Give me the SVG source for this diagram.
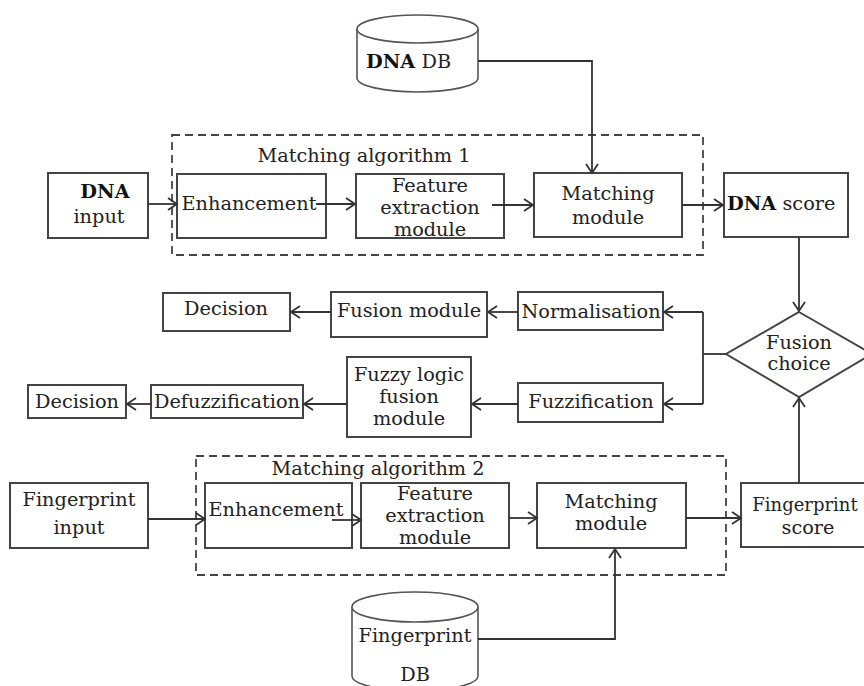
<svg xmlns="http://www.w3.org/2000/svg" width="864" height="686" viewBox="0 0 864 686">
<defs>
<marker id="arr" markerUnits="userSpaceOnUse" markerWidth="12" markerHeight="14" refX="10" refY="7" orient="auto">
<path d="M1,1 L10,7 L1,13" fill="none" stroke="#333" stroke-width="1.8"/>
</marker>
<style>
.box{fill:#fff;stroke:#444;stroke-width:2}
.dash{fill:none;stroke:#444;stroke-width:1.8;stroke-dasharray:8 5}
.cyl{fill:#fff;stroke:#555;stroke-width:1.6}
.ln{fill:none;stroke:#333;stroke-width:1.8}
text{font-family:"DejaVu Serif","Liberation Serif",serif;font-size:19.3px;fill:#222}
.m{text-anchor:middle}
.b{font-weight:bold;fill:#111}
</style>
</defs>
<rect width="864" height="686" fill="#fff"/>

<g id="groups">
<rect class="dash" x="172" y="135" width="531" height="120"/>
<text x="364" y="162" class="m">Matching algorithm 1</text>
<rect class="dash" x="196" y="456" width="530" height="119"/>
<text x="378" y="475" class="m">Matching algorithm 2</text>
</g>

<g id="dna-db">
<path class="cyl" d="M357,29 L357,78 A60.5,14 0 0 0 478,78 L478,29"/>
<ellipse class="cyl" cx="417.5" cy="29" rx="60.5" ry="14"/>
<text x="366" y="68"><tspan class="b">DNA</tspan> DB</text>
</g>

<g id="dna-input">
<rect class="box" x="48" y="173" width="100" height="65"/>
<text x="105" y="198" class="m b">DNA</text>
<text x="99" y="223" class="m">input</text>
</g>

<g id="enh1">
<rect class="box" x="177" y="174" width="149" height="64"/>
<text x="249" y="210" class="m">Enhancement</text>
</g>

<g id="feat1">
<rect class="box" x="356" y="174" width="148" height="64"/>
<text x="430" y="192" class="m">Feature</text>
<text x="430" y="214" class="m">extraction</text>
<text x="430" y="236" class="m">module</text>
</g>

<g id="match1">
<rect class="box" x="534" y="173" width="148" height="64"/>
<text x="608" y="200" class="m">Matching</text>
<text x="608" y="224" class="m">module</text>
</g>

<g id="dna-score">
<rect class="box" x="724" y="173" width="124" height="64"/>
<text x="727" y="210"><tspan class="b">DNA</tspan> score</text>
</g>

<g id="fusion-choice">
<path class="box" d="M799,312 L872,354 L799,397 L726,354 Z"/>
<text x="799" y="349" class="m">Fusion</text>
<text x="799" y="370" class="m">choice</text>
</g>

<g id="normalisation">
<rect class="box" x="518" y="292" width="145" height="38"/>
<text x="591" y="318" class="m">Normalisation</text>
</g>

<g id="fusion-module">
<rect class="box" x="331" y="292" width="156" height="45"/>
<text x="409" y="317" class="m">Fusion module</text>
</g>

<g id="decision1">
<rect class="box" x="163" y="293" width="127" height="38"/>
<text x="226" y="315" class="m">Decision</text>
</g>

<g id="fuzzification">
<rect class="box" x="518" y="383" width="145" height="39"/>
<text x="591" y="408" class="m">Fuzzification</text>
</g>

<g id="fuzzy-logic">
<rect class="box" x="347" y="357" width="124" height="80"/>
<text x="409" y="381" class="m">Fuzzy logic</text>
<text x="409" y="403" class="m">fusion</text>
<text x="409" y="425" class="m">module</text>
</g>

<g id="defuzzification">
<rect class="box" x="151" y="385" width="152" height="33"/>
<text x="227" y="408" class="m">Defuzzification</text>
</g>

<g id="decision2">
<rect class="box" x="28" y="385" width="98" height="33"/>
<text x="77" y="408" class="m">Decision</text>
</g>

<g id="fp-input">
<rect class="box" x="10" y="483" width="138" height="65"/>
<text x="79" y="506" class="m">Fingerprint</text>
<text x="79" y="534" class="m">input</text>
</g>

<g id="enh2">
<rect class="box" x="205" y="483" width="147" height="65"/>
<text x="276" y="516" class="m">Enhancement</text>
</g>

<g id="feat2">
<rect class="box" x="361" y="483" width="148" height="65"/>
<text x="435" y="500" class="m">Feature</text>
<text x="435" y="522" class="m">extraction</text>
<text x="435" y="544" class="m">module</text>
</g>

<g id="match2">
<rect class="box" x="537" y="483" width="149" height="65"/>
<text x="611" y="508" class="m">Matching</text>
<text x="611" y="530" class="m">module</text>
</g>

<g id="fp-score">
<rect class="box" x="741" y="483" width="140" height="64"/>
<text x="805" y="511" class="m" style="font-size:18px">Fingerprint</text>
<text x="808" y="534" class="m">score</text>
</g>

<g id="fp-db">
<path class="cyl" d="M352,607 L352,676 A63,15 0 0 0 478,676 L478,607"/>
<ellipse class="cyl" cx="415" cy="607" rx="63" ry="15"/>
<text x="415" y="642" class="m">Fingerprint</text>
<text x="415" y="681" class="m">DB</text>
</g>

<g id="connectors">
<path class="ln" d="M478,61 H592 V173" marker-end="url(#arr)"/>
<path class="ln" d="M148,204 H177" marker-end="url(#arr)"/>
<path class="ln" d="M316,204 H355" marker-end="url(#arr)"/>
<path class="ln" d="M492,205 H533" marker-end="url(#arr)"/>
<path class="ln" d="M682,205 H723" marker-end="url(#arr)"/>
<path class="ln" d="M799,237 V311" marker-end="url(#arr)"/>
<path class="ln" d="M726,354 H703"/>
<path class="ln" d="M703,312 V404"/>
<path class="ln" d="M703,312 H664" marker-end="url(#arr)"/>
<path class="ln" d="M703,404 H664" marker-end="url(#arr)"/>
<path class="ln" d="M518,312 H488" marker-end="url(#arr)"/>
<path class="ln" d="M331,312 H291" marker-end="url(#arr)"/>
<path class="ln" d="M518,404 H472" marker-end="url(#arr)"/>
<path class="ln" d="M347,404 H304" marker-end="url(#arr)"/>
<path class="ln" d="M151,404 H127" marker-end="url(#arr)"/>
<path class="ln" d="M148,519 H205" marker-end="url(#arr)"/>
<path class="ln" d="M332,520 H361" marker-end="url(#arr)"/>
<path class="ln" d="M509,518 H537" marker-end="url(#arr)"/>
<path class="ln" d="M686,518 H741" marker-end="url(#arr)"/>
<path class="ln" d="M799,483 V398" marker-end="url(#arr)"/>
<path class="ln" d="M478,639 H615 V549" marker-end="url(#arr)"/>
</g>
</svg>
